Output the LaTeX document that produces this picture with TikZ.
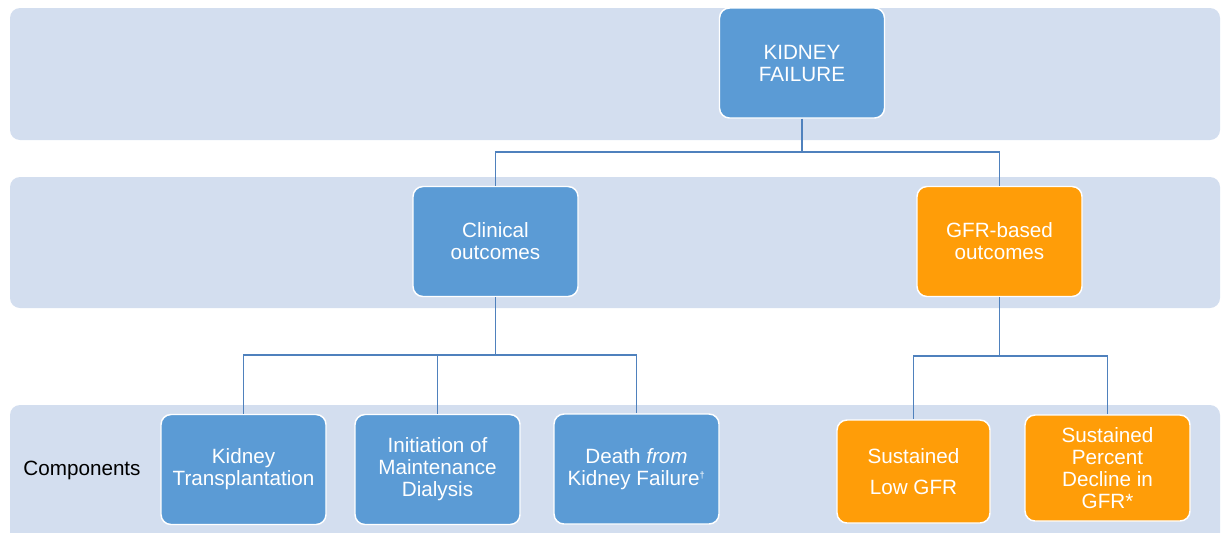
\documentclass[tikz,border=0pt]{standalone}
\usepackage{fontspec}
\setmainfont{Liberation Sans}
\definecolor{bandblue}{RGB}{211,222,239}
\definecolor{boxblue}{RGB}{91,155,213}
\definecolor{boxorange}{RGB}{255,157,8}
\definecolor{linkblue}{RGB}{79,129,189}
\begin{document}
\begin{tikzpicture}[x=0.75pt, y=-0.75pt,
            band/.style={fill=bandblue, draw=none, rounded corners=7.5pt},
            outcome/.style={draw=white, line width=1.1pt, rounded corners=7.5pt,
                text=white, align=center, inner sep=2pt,
                minimum width=123.75pt, minimum height=82.5pt,
                font=\fontsize{15.5}{16.5}\selectfont},
            clinbox/.style={outcome, fill=boxblue},
            gfrbox/.style={outcome, fill=boxorange},
            link/.style={draw=linkblue, line width=0.8pt}
        ]
            \useasboundingbox (0,0) rectangle (1221,532);

            % background bands
            \fill[band] (10,8) rectangle (1220,140);
            \fill[band] (10,177) rectangle (1220,308);
            \fill[band] (10,405) rectangle (1220,560);

            % top level
            \node[clinbox] (kf) at (802,63) {KIDNEY\\FAILURE};

            % middle level
            \node[clinbox] (clin) at (495.5,241.5) {Clinical\\outcomes};
            \node[gfrbox] (gfr) at (999.5,241.5) {GFR-based\\outcomes};

            % components
            \node[font=\fontsize{15.5}{16.5}\selectfont] (comp) at (82,470) {Components};
            \node[clinbox] (kt) at (243.5,469.5) {Kidney\\Transplantation};
            \node[clinbox] (init) at (437.5,469.5) {Initiation of\\Maintenance\\Dialysis};
            \node[clinbox] (death) at (636.5,469) {Death \textit{from}\\Kidney Failure\textsuperscript{\scriptsize†}};
            \node[gfrbox, minimum width=114.75pt, minimum height=77.25pt] (slow) at (913.5,471.5) {Sustained\\[6.5pt]Low GFR};
            \node[gfrbox, minimum height=79.5pt] (spd) at (1107.5,468) {Sustained\\Percent\\Decline in\\GFR*};

            % connectors
            \coordinate (j1) at (802,152);
            \coordinate (j2) at (495.5,355);
            \coordinate (j3) at (999.5,356);
            \draw[link] (kf.south) -- (j1) -| (clin.north);
            \draw[link] (j1) -| (gfr.north);
            \draw[link] (clin.south) -- (j2) -| (kt.north);
            \draw[link] (j2) -| (init.north);
            \draw[link] (j2) -| (death.north);
            \draw[link] (gfr.south) -- (j3) -| (slow.north);
            \draw[link] (j3) -| (spd.north);
        \end{tikzpicture}
\end{document}
